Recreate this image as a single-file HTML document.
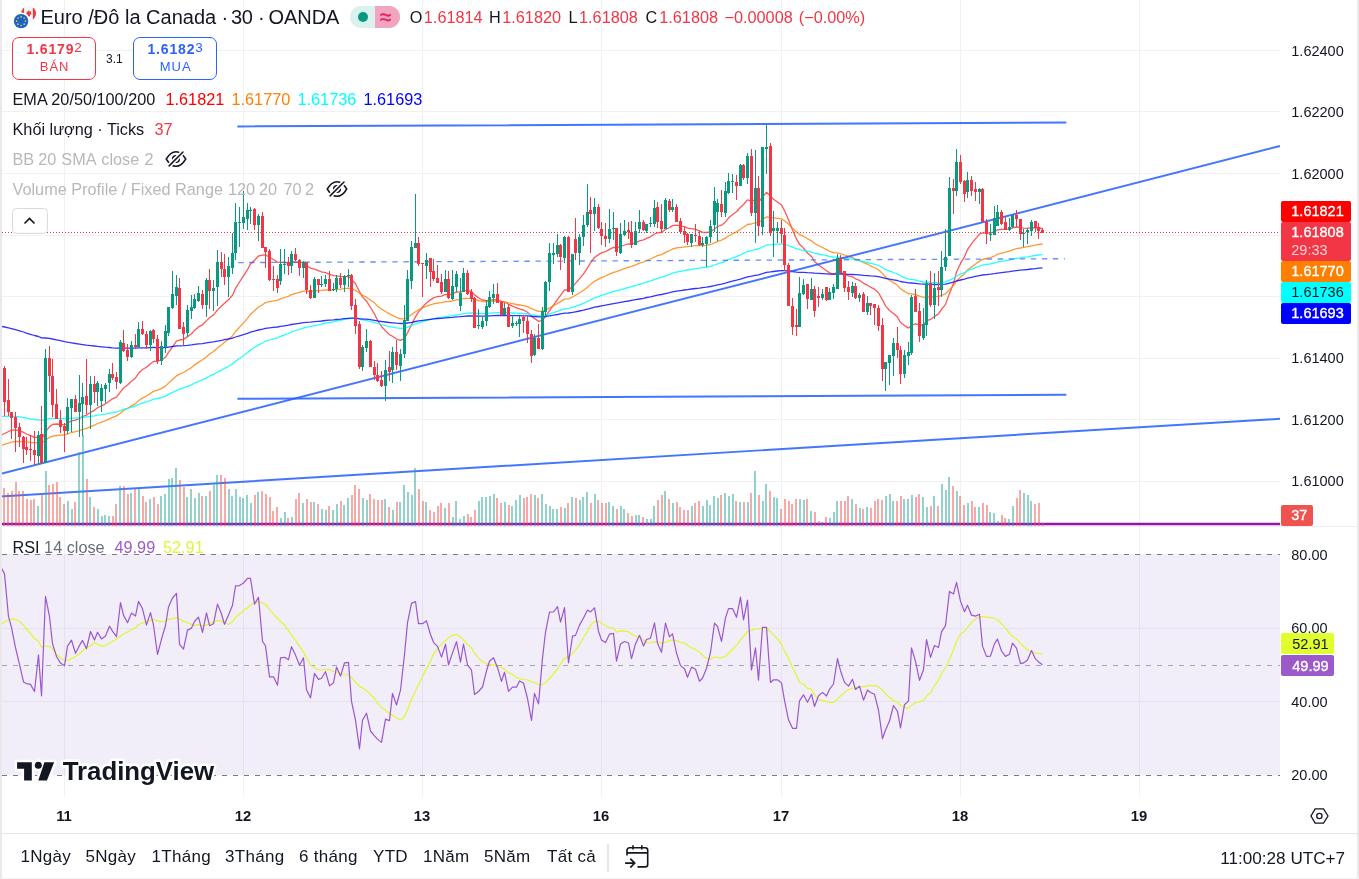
<!DOCTYPE html>
<html lang="vi">
<head>
<meta charset="utf-8">
<title>EURCAD · 30 · OANDA</title>
<style>
html,body{margin:0;padding:0;background:#fff;}
body{width:1359px;height:879px;position:relative;overflow:hidden;font-family:"Liberation Sans",sans-serif;color:#131722;}
.chart{position:absolute;left:0;top:0;}
.abs{position:absolute;white-space:nowrap;}
.bl{position:absolute;left:0;top:0;width:2px;height:879px;background:#e9e9eb;}
.br{position:absolute;left:1357px;top:0;width:2px;height:879px;background:#e9e9eb;}
.hsep{position:absolute;left:0;width:1359px;height:1px;background:#e3e4e8;}
.title{top:4.5px;font-size:20px;line-height:24px;color:#131722;}
.ohlc{top:6.5px;font-size:16.25px;line-height:20px;}
.ohlc b{font-weight:normal;color:#131722;}
.ohlc i{font-style:normal;color:#f23645;}
.lg{left:12.500px;font-size:16.25px;line-height:20px;color:#131722;}
.lg span{margin-left:0;}
.dim{color:#b7b8bc;}
.btn{position:absolute;top:37px;width:82.3px;height:41px;border:1px solid;border-radius:7px;box-sizing:content-box;text-align:center;background:#fff;}
.btn .p{position:absolute;left:0;right:0;top:3.300px;font-size:14px;line-height:16px;font-weight:bold;letter-spacing:0.850px;}
.btn .p sup{font-size:13.500px;font-weight:normal;vertical-align:baseline;position:relative;top:-2.300px;letter-spacing:0;}
.btn .t{position:absolute;left:1px;right:0;top:21px;font-size:13px;line-height:16px;letter-spacing:1px;}
.ax{position:absolute;left:1291.300px;font-size:14.500px;line-height:16px;color:#131722;}
.tag{position:absolute;left:1281px;width:70px;border-radius:2px;color:#fff;font-size:14.500px;line-height:21px;box-sizing:border-box;padding-left:10.300px;font-weight:normal;-webkit-text-stroke:0.350px currentColor;}
.tl{position:absolute;top:808px;font-size:14.800px;line-height:16px;font-weight:bold;color:#131722;transform:translateX(-50%);}
.tb{position:absolute;top:847px;font-size:17px;line-height:20px;color:#131722;letter-spacing:0.300px;}
</style>
</head>
<body>
<svg class="chart" width="1359" height="879" viewBox="0 0 1359 879"><path d="M0 50.5H1280M0 111.5H1280M0 173.5H1280M0 235.5H1280M0 296.5H1280M0 358.5H1280M0 419.5H1280M0 481.5H1280M0 628.5H1280M0 701.5H1280M64.5 0V797M243.5 0V797M422.5 0V797M601.5 0V797M781.5 0V797M960.5 0V797M1139.5 0V797" stroke="#f1f1f3" stroke-width="1" fill="none" shape-rendering="crispEdges"/>
<rect x="0" y="554" width="1280" height="221.5" fill="#7e57c2" fill-opacity="0.1"/>
<path d="M0 554.5H1280M0 775.5H1280" stroke="#787b86" stroke-width="1" stroke-dasharray="5.5 5.5" stroke-dashoffset="9.3" fill="none" shape-rendering="crispEdges"/>
<path d="M0 665.5H1280" stroke="#a4a6ae" stroke-width="1" stroke-dasharray="5.5 5.5" stroke-dashoffset="9.3" fill="none" shape-rendering="crispEdges"/>
<polyline points="0.8,435.5 4.5,433.5 8.5,431.5 11.5,430.2 15.5,430 19.5,430.7 23.5,432.4 26.5,434 30.5,435.6 34.5,437.4 38.5,437.2 41.5,439.6 45.5,431.8 49.5,426.6 52.5,424.5 56.5,424 60.5,424.3 64.5,424.9 67.5,423.2 71.5,420.9 75.5,420.1 79.5,418.5 82.5,416.4 86.5,415.3 90.5,412.3 94.5,410.3 97.5,407.7 101.5,405.8 105.5,403.8 109.5,401 112.5,398.8 116.5,397.2 120.5,391.9 123.5,388 127.5,385 131.5,381.2 135.5,378 138.5,373.3 142.5,369.5 146.5,367.2 150.5,363.7 153.5,361.4 157.5,361.4 161.5,359.9 165.5,357.2 168.5,352.4 172.5,346.9 176.5,341.2 179.5,340 183.5,339.4 187.5,336.6 191.5,333.8 194.5,330.4 198.5,326.9 202.5,324.8 206.5,320.6 209.5,317.7 213.5,314.9 217.5,309.9 221.5,306 224.5,303.3 228.5,299.8 232.5,295.3 235.5,288.3 239.5,282 243.5,275.8 247.5,269.6 250.5,263.9 254.5,260.2 258.5,256 262.5,255.2 265.5,254.9 269.5,257.3 273.5,259.5 277.5,262.2 280.5,262.4 284.5,262.5 288.5,262.8 291.5,262 295.5,261.8 299.5,262.4 303.5,262.4 306.5,265.1 310.5,268.2 314.5,269.2 318.5,270.7 321.5,271.9 325.5,272.6 329.5,274.3 333.5,275.7 336.5,275.9 340.5,276.7 344.5,276.6 348.5,276.5 351.5,279.3 355.5,283.7 359.5,291.7 362.5,296.9 366.5,301.2 370.5,307.5 374.5,313.9 377.5,320.3 381.5,326.5 385.5,330.7 389.5,334.6 392.5,336.3 396.5,339 400.5,340.4 404.5,338.5 407.5,332.8 411.5,324.7 415.5,316.9 418.5,311.9 422.5,307.3 426.5,302.8 430.5,299.9 433.5,297.9 437.5,296.5 441.5,296.1 445.5,294.4 448.5,294.8 452.5,293.9 456.5,292 460.5,292.1 463.5,290.3 467.5,290.6 471.5,291.5 474.5,294.9 478.5,297.8 482.5,300 486.5,300.6 489.5,300.2 493.5,299.6 497.5,299.9 501.5,301.4 504.5,302 508.5,304.3 512.5,306.2 516.5,307.8 519.5,308.9 523.5,310 527.5,312.2 531.5,316.4 534.5,318.4 538.5,321.3 542.5,320.3 545.5,316.7 549.5,310.6 553.5,305.1 557.5,299.4 560.5,295.4 564.5,289.9 568.5,290 572.5,286.6 575.5,283.4 579.5,278.9 583.5,273.8 587.5,267.9 590.5,262.8 594.5,257.5 598.5,254.6 601.5,252.9 605.5,251.6 609.5,249.4 613.5,247.3 616.5,247.8 620.5,246.5 624.5,245 628.5,243.8 631.5,244 635.5,242.7 639.5,240.8 643.5,239.8 646.5,238.3 650.5,236.8 654.5,234 657.5,232.9 661.5,232.5 665.5,229.4 669.5,227.5 672.5,225.6 676.5,225.2 680.5,225.8 684.5,226.7 687.5,228.1 691.5,228.7 695.5,229.4 699.5,230.9 702.5,232.1 706.5,232.5 710.5,231.9 714.5,229 717.5,226.5 721.5,225.2 725.5,221.9 728.5,218.1 732.5,214.5 736.5,211.8 740.5,207.3 743.5,204.5 747.5,199.9 751.5,201.1 755.5,199.8 758.5,202.3 762.5,197 766.5,192.3 770.5,196.1 773.5,199.2 777.5,202 781.5,205 784.5,210.6 788.5,219.7 792.5,229.9 796.5,239.1 799.5,244.2 803.5,248.1 807.5,253 811.5,256.4 814.5,261.6 818.5,265 822.5,267.8 826.5,270.8 829.5,272.9 833.5,274.2 837.5,272.7 840.5,272.7 844.5,274.1 848.5,275.8 852.5,276.8 855.5,278.8 859.5,280.3 863.5,283.3 867.5,285.2 870.5,287.2 874.5,289.2 878.5,292.7 882.5,299.9 885.5,305.8 889.5,310.5 893.5,313.6 897.5,317.1 900.5,322.5 904.5,325.6 908.5,328.1 911.5,325.2 915.5,323.9 919.5,325 923.5,324.9 926.5,320.9 930.5,319.4 934.5,316.4 938.5,313.9 941.5,309.4 945.5,304.4 949.5,293.4 953.5,283.6 956.5,272 960.5,263.4 964.5,256.8 967.5,249.5 971.5,243.9 975.5,238.9 979.5,234.1 982.5,233 986.5,233.1 990.5,233.2 994.5,231.7 997.5,229.8 1001.5,229.3 1005.5,229.3 1009.5,229.1 1012.5,227.8 1016.5,227 1020.5,227.6 1023.5,228.1 1027.5,228.3 1031.5,227.7 1035.5,227.8 1038.5,228 1042.5,228.5" fill="none" stroke="#ff0000" stroke-width="1.3" stroke-linejoin="round" stroke-opacity="0.66"/>
<polyline points="0.8,445.5 4.5,444.3 8.5,443.1 11.5,442.1 15.5,441.5 19.5,441.3 23.5,441.6 26.5,441.9 30.5,442.3 34.5,442.8 38.5,442.5 41.5,443.3 45.5,439.9 49.5,437.4 52.5,436.1 56.5,435.5 60.5,435.2 64.5,435 67.5,433.9 71.5,432.5 75.5,431.7 79.5,430.6 82.5,429.3 86.5,428.3 90.5,426.6 94.5,425.2 97.5,423.5 101.5,422.1 105.5,420.7 109.5,418.9 112.5,417.3 116.5,415.9 120.5,413 123.5,410.5 127.5,408.4 131.5,405.9 135.5,403.6 138.5,400.7 142.5,398.1 146.5,396 150.5,393.4 153.5,391.3 157.5,390.1 161.5,388.4 165.5,386.1 168.5,383.1 172.5,379.6 176.5,375.9 179.5,374.1 183.5,372.5 187.5,370 191.5,367.6 194.5,364.9 198.5,362.1 202.5,359.8 206.5,356.7 209.5,354.1 213.5,351.5 217.5,348 221.5,344.9 224.5,342.3 228.5,339.3 232.5,335.9 235.5,331.5 239.5,327.2 243.5,322.9 247.5,318.4 250.5,314.2 254.5,310.7 258.5,307 262.5,304.7 265.5,302.6 269.5,301.7 273.5,300.8 277.5,300.4 280.5,298.9 284.5,297.5 288.5,296.3 291.5,294.6 295.5,293.3 299.5,292.3 303.5,291.1 306.5,291.1 310.5,291.4 314.5,290.9 318.5,290.6 321.5,290.4 325.5,289.9 329.5,290 333.5,289.9 336.5,289.4 340.5,289.2 344.5,288.7 348.5,288.2 351.5,288.9 355.5,290.3 359.5,293.3 362.5,295.4 366.5,297.2 370.5,300 374.5,302.9 377.5,306 381.5,309.1 385.5,311.5 389.5,313.9 392.5,315.4 396.5,317.3 400.5,318.8 404.5,318.8 407.5,317.3 411.5,314.5 415.5,311.7 418.5,309.8 422.5,308 426.5,306.2 430.5,304.8 433.5,303.8 437.5,303 441.5,302.6 445.5,301.6 448.5,301.5 452.5,300.9 456.5,299.8 460.5,299.5 463.5,298.5 467.5,298.3 471.5,298.4 474.5,299.5 478.5,300.5 482.5,301.3 486.5,301.5 489.5,301.3 493.5,301 497.5,301.1 501.5,301.7 504.5,301.9 508.5,302.9 512.5,303.7 516.5,304.5 519.5,305 523.5,305.6 527.5,306.7 531.5,308.7 534.5,309.8 538.5,311.3 542.5,311.3 545.5,310.2 549.5,307.9 553.5,305.8 557.5,303.4 560.5,301.6 564.5,299.1 568.5,298.8 572.5,297 575.5,295.3 579.5,293 583.5,290.3 587.5,287.3 590.5,284.4 594.5,281.3 598.5,279.2 601.5,277.6 605.5,276 609.5,274.2 613.5,272.4 616.5,271.6 620.5,270.1 624.5,268.6 628.5,267.2 631.5,266.3 635.5,264.9 639.5,263.2 643.5,262 646.5,260.5 650.5,259 654.5,257 657.5,255.6 661.5,254.6 665.5,252.4 669.5,250.7 672.5,249 676.5,247.9 680.5,247.3 684.5,246.8 687.5,246.6 691.5,246.2 695.5,245.7 699.5,245.7 702.5,245.6 706.5,245.3 710.5,244.5 714.5,242.8 717.5,241.3 721.5,240.1 725.5,238.2 728.5,236 732.5,233.8 736.5,231.9 740.5,229.3 743.5,227.3 747.5,224.5 751.5,224 755.5,222.6 758.5,222.7 762.5,219.8 766.5,216.9 770.5,217.5 773.5,217.9 777.5,218.4 781.5,218.9 784.5,220.7 788.5,224.1 792.5,228.1 796.5,232 799.5,234.4 803.5,236.3 807.5,238.8 811.5,240.8 814.5,243.5 818.5,245.6 822.5,247.5 826.5,249.6 829.5,251.3 833.5,252.7 837.5,252.9 840.5,253.6 844.5,255 848.5,256.4 852.5,257.6 855.5,259.2 859.5,260.6 863.5,262.6 867.5,264.2 870.5,265.8 874.5,267.5 878.5,269.8 882.5,273.6 885.5,277.1 889.5,280.2 893.5,282.6 897.5,285.3 900.5,288.8 904.5,291.4 908.5,293.7 911.5,293.9 915.5,294.6 919.5,296.2 923.5,297.3 926.5,296.7 930.5,297 934.5,296.7 938.5,296.4 941.5,295.3 945.5,293.8 949.5,289.6 953.5,285.7 956.5,280.9 960.5,277 964.5,273.7 967.5,270.1 971.5,267 975.5,264 979.5,261.1 982.5,259.5 986.5,258.5 990.5,257.6 994.5,256 997.5,254.3 1001.5,253.1 1005.5,252.2 1009.5,251.2 1012.5,249.8 1016.5,248.6 1020.5,248 1023.5,247.4 1027.5,246.7 1031.5,245.8 1035.5,245.1 1038.5,244.5 1042.5,244" fill="none" stroke="#ff8000" stroke-width="1.3" stroke-linejoin="round" stroke-opacity="0.8"/>
<polyline points="0.8,416.4 4.5,416.3 8.5,416.2 11.5,416.3 15.5,416.5 19.5,416.9 23.5,417.5 26.5,418.2 30.5,418.8 34.5,419.5 38.5,419.8 41.5,420.7 45.5,419.4 49.5,418.6 52.5,418.3 56.5,418.3 60.5,418.5 64.5,418.7 67.5,418.5 71.5,418.1 75.5,418 79.5,417.7 82.5,417.3 86.5,417 90.5,416.4 94.5,415.9 97.5,415.2 101.5,414.7 105.5,414.1 109.5,413.3 112.5,412.6 116.5,412 120.5,410.6 123.5,409.4 127.5,408.4 131.5,407.1 135.5,406 138.5,404.4 142.5,403 146.5,401.9 150.5,400.5 153.5,399.2 157.5,398.5 161.5,397.5 165.5,396.1 168.5,394.4 172.5,392.4 176.5,390.3 179.5,389.1 183.5,388 187.5,386.4 191.5,384.9 194.5,383.2 198.5,381.4 202.5,379.9 206.5,377.9 209.5,376.2 213.5,374.4 217.5,372.2 221.5,370.2 224.5,368.3 228.5,366.3 232.5,364.1 235.5,361.3 239.5,358.5 243.5,355.7 247.5,352.8 250.5,350 254.5,347.5 258.5,344.9 262.5,343 265.5,341.2 269.5,340 273.5,338.8 277.5,337.8 280.5,336.3 284.5,334.9 288.5,333.5 291.5,331.9 295.5,330.5 299.5,329.3 303.5,328 306.5,327.2 310.5,326.6 314.5,325.7 318.5,324.9 321.5,324.1 325.5,323.2 329.5,322.5 333.5,321.9 336.5,321 340.5,320.3 344.5,319.4 348.5,318.5 351.5,318.3 355.5,318.4 359.5,319.4 362.5,319.9 366.5,320.3 370.5,321.3 374.5,322.4 377.5,323.5 381.5,324.7 385.5,325.6 389.5,326.6 392.5,327.1 396.5,327.8 400.5,328.3 404.5,328.2 407.5,327.2 411.5,325.6 415.5,324 418.5,322.8 422.5,321.6 426.5,320.4 430.5,319.4 433.5,318.6 437.5,317.9 441.5,317.4 445.5,316.7 448.5,316.3 452.5,315.7 456.5,314.9 460.5,314.4 463.5,313.6 467.5,313.2 471.5,312.9 474.5,313.2 478.5,313.5 482.5,313.6 486.5,313.5 489.5,313.1 493.5,312.8 497.5,312.6 501.5,312.6 504.5,312.5 508.5,312.8 512.5,313 516.5,313.2 519.5,313.3 523.5,313.5 527.5,313.9 531.5,314.7 534.5,315.2 538.5,315.8 542.5,315.7 545.5,315.1 549.5,313.8 553.5,312.6 557.5,311.3 560.5,310.2 564.5,308.8 568.5,308.4 572.5,307.4 575.5,306.3 579.5,304.9 583.5,303.3 587.5,301.5 590.5,299.8 594.5,297.9 598.5,296.6 601.5,295.4 605.5,294.2 609.5,292.9 613.5,291.7 616.5,290.9 620.5,289.8 624.5,288.6 628.5,287.5 631.5,286.6 635.5,285.5 639.5,284.3 643.5,283.2 646.5,282 650.5,280.9 654.5,279.4 657.5,278.3 661.5,277.3 665.5,275.8 669.5,274.5 672.5,273.1 676.5,272.1 680.5,271.3 684.5,270.6 687.5,270 691.5,269.3 695.5,268.7 699.5,268.2 702.5,267.7 706.5,267.1 710.5,266.3 714.5,265 717.5,263.8 721.5,262.7 725.5,261.3 728.5,259.7 732.5,258.2 736.5,256.7 740.5,254.9 743.5,253.4 747.5,251.5 751.5,250.7 755.5,249.5 758.5,249 762.5,247 766.5,245 770.5,244.7 773.5,244.4 777.5,244.1 781.5,243.9 784.5,244.3 788.5,245.5 792.5,247.1 796.5,248.7 799.5,249.6 803.5,250.3 807.5,251.2 811.5,252 814.5,253.1 818.5,254 822.5,254.8 826.5,255.7 829.5,256.4 833.5,257 837.5,257.1 840.5,257.4 844.5,258 848.5,258.7 852.5,259.2 855.5,260 859.5,260.6 863.5,261.7 867.5,262.5 870.5,263.3 874.5,264.2 878.5,265.5 882.5,267.5 885.5,269.4 889.5,271.1 893.5,272.5 897.5,274 900.5,276 904.5,277.6 908.5,279.1 911.5,279.4 915.5,280 919.5,281.2 923.5,282 926.5,282 930.5,282.5 934.5,282.6 938.5,282.7 941.5,282.4 945.5,281.9 949.5,280.1 953.5,278.3 956.5,276 960.5,274.1 964.5,272.5 967.5,270.7 971.5,269.1 975.5,267.6 979.5,266 982.5,265.1 986.5,264.5 990.5,263.9 994.5,263 997.5,262 1001.5,261.3 1005.5,260.6 1009.5,260 1012.5,259.1 1016.5,258.3 1020.5,257.8 1023.5,257.3 1027.5,256.8 1031.5,256.1 1035.5,255.5 1038.5,255 1042.5,254.6" fill="none" stroke="#00ffff" stroke-width="1.3" stroke-linejoin="round" stroke-opacity="0.85"/>
<polyline points="0.8,326.1 4.5,327 8.5,327.9 11.5,328.7 15.5,329.7 19.5,330.8 23.5,332 26.5,333.1 30.5,334.3 34.5,335.5 38.5,336.5 41.5,337.8 45.5,338 49.5,338.3 52.5,339 56.5,339.8 60.5,340.7 64.5,341.6 67.5,342.2 71.5,342.8 75.5,343.5 79.5,344.1 82.5,344.6 86.5,345.2 90.5,345.6 94.5,346 97.5,346.4 101.5,346.8 105.5,347.2 109.5,347.5 112.5,347.8 116.5,348.1 120.5,348 123.5,348.1 127.5,348.2 131.5,348.1 135.5,348.1 138.5,347.9 142.5,347.8 146.5,347.8 150.5,347.6 153.5,347.5 157.5,347.6 161.5,347.6 165.5,347.5 168.5,347.1 172.5,346.5 176.5,345.9 179.5,345.8 183.5,345.6 187.5,345.3 191.5,344.9 194.5,344.4 198.5,343.9 202.5,343.6 206.5,342.9 209.5,342.4 213.5,341.9 217.5,341.1 221.5,340.4 224.5,339.7 228.5,339 232.5,338.1 235.5,337 239.5,335.8 243.5,334.7 247.5,333.4 250.5,332.2 254.5,331.1 258.5,330 262.5,329.2 265.5,328.4 269.5,327.9 273.5,327.4 277.5,327 280.5,326.4 284.5,325.8 288.5,325.2 291.5,324.5 295.5,323.9 299.5,323.3 303.5,322.7 306.5,322.4 310.5,322.1 314.5,321.7 318.5,321.3 321.5,321 325.5,320.5 329.5,320.2 333.5,319.9 336.5,319.5 340.5,319.2 344.5,318.7 348.5,318.3 351.5,318.2 355.5,318.2 359.5,318.7 362.5,319 366.5,319.2 370.5,319.7 374.5,320.3 377.5,320.9 381.5,321.5 385.5,322 389.5,322.5 392.5,322.8 396.5,323.2 400.5,323.5 404.5,323.5 407.5,323 411.5,322.3 415.5,321.5 418.5,320.9 422.5,320.4 426.5,319.8 430.5,319.3 433.5,318.9 437.5,318.5 441.5,318.3 445.5,317.9 448.5,317.7 452.5,317.4 456.5,316.9 460.5,316.7 463.5,316.3 467.5,316 471.5,315.9 474.5,316 478.5,316.1 482.5,316.1 486.5,316 489.5,315.8 493.5,315.6 497.5,315.5 501.5,315.5 504.5,315.4 508.5,315.5 512.5,315.6 516.5,315.7 519.5,315.7 523.5,315.8 527.5,315.9 531.5,316.3 534.5,316.5 538.5,316.9 542.5,316.8 545.5,316.5 549.5,315.8 553.5,315.2 557.5,314.5 560.5,313.9 564.5,313.2 568.5,313 572.5,312.4 575.5,311.8 579.5,311 583.5,310.2 587.5,309.2 590.5,308.3 594.5,307.2 598.5,306.5 601.5,305.8 605.5,305.1 609.5,304.3 613.5,303.6 616.5,303.1 620.5,302.4 624.5,301.7 628.5,301 631.5,300.4 635.5,299.7 639.5,299 643.5,298.3 646.5,297.5 650.5,296.8 654.5,295.9 657.5,295.2 661.5,294.5 665.5,293.6 669.5,292.7 672.5,291.9 676.5,291.2 680.5,290.6 684.5,290 687.5,289.6 691.5,289 695.5,288.5 699.5,288.1 702.5,287.6 706.5,287.1 710.5,286.5 714.5,285.6 717.5,284.8 721.5,284.1 725.5,283.2 728.5,282.2 732.5,281.2 736.5,280.2 740.5,279.1 743.5,278.1 747.5,276.8 751.5,276.2 755.5,275.3 758.5,274.8 762.5,273.6 766.5,272.3 770.5,271.9 773.5,271.5 777.5,271 781.5,270.7 784.5,270.6 788.5,271 792.5,271.5 796.5,272.1 799.5,272.3 803.5,272.4 807.5,272.7 811.5,272.8 814.5,273.2 818.5,273.4 822.5,273.6 826.5,273.9 829.5,274.1 833.5,274.2 837.5,274.1 840.5,274 844.5,274.2 848.5,274.4 852.5,274.5 855.5,274.7 859.5,274.9 863.5,275.3 867.5,275.6 870.5,275.9 874.5,276.2 878.5,276.7 882.5,277.6 885.5,278.4 889.5,279.2 893.5,279.8 897.5,280.5 900.5,281.5 904.5,282.2 908.5,282.9 911.5,283 915.5,283.3 919.5,283.8 923.5,284.2 926.5,284.2 930.5,284.4 934.5,284.5 938.5,284.5 941.5,284.3 945.5,284.1 949.5,283.1 953.5,282.2 956.5,281 960.5,280 964.5,279.1 967.5,278.2 971.5,277.3 975.5,276.4 979.5,275.6 982.5,275 986.5,274.6 990.5,274.2 994.5,273.7 997.5,273.1 1001.5,272.6 1005.5,272.1 1009.5,271.7 1012.5,271.1 1016.5,270.6 1020.5,270.2 1023.5,269.9 1027.5,269.5 1031.5,269 1035.5,268.6 1038.5,268.2 1042.5,267.9" fill="none" stroke="#0000ff" stroke-width="1.3" stroke-linejoin="round" stroke-opacity="0.8"/>
<path d="M238.2 262.6L1064.8 258.7" stroke="#2962ff" stroke-width="1.35" stroke-dasharray="5.4 5.609" fill="none" stroke-opacity="0.72"/>
<path d="M238.2 126.4L1065.5 122.6M238.2 398.8L1065.5 394.8" stroke="#2962ff" stroke-width="2" fill="none" stroke-linecap="round" stroke-opacity="0.88"/>
<path d="M0 474L1280 146M0 496.5L1280 418.8" stroke="#2962ff" stroke-width="1.95" fill="none" stroke-opacity="0.88"/>
<path d="M0 524H1280" stroke="#9613b0" stroke-width="2.3" fill="none"/>
<path d="M37 506h2V525.5h-2zM45 471h2V525.5h-2zM67 501h2V525.5h-2zM71 509h2V525.5h-2zM78 452h2V525.5h-2zM82 435h2V525.5h-2zM89 497h2V525.5h-2zM97 509h2V525.5h-2zM101 516h2V525.5h-2zM104 515h2V525.5h-2zM108 516h2V525.5h-2zM119 486h2V525.5h-2zM130 493h2V525.5h-2zM138 489h2V525.5h-2zM149 499h2V525.5h-2zM160 496h2V525.5h-2zM164 494h2V525.5h-2zM168 479h2V525.5h-2zM171 478h2V525.5h-2zM175 468h2V525.5h-2zM186 497h2V525.5h-2zM190 489h2V525.5h-2zM194 498h2V525.5h-2zM198 493h2V525.5h-2zM205 496h2V525.5h-2zM213 485h2V525.5h-2zM216 475h2V525.5h-2zM228 489h2V525.5h-2zM231 496h2V525.5h-2zM235 489h2V525.5h-2zM239 497h2V525.5h-2zM242 498h2V525.5h-2zM246 495h2V525.5h-2zM250 503h2V525.5h-2zM257 492h2V525.5h-2zM280 518h2V525.5h-2zM284 512h2V525.5h-2zM291 517h2V525.5h-2zM302 503h2V525.5h-2zM313 502h2V525.5h-2zM321 509h2V525.5h-2zM325 510h2V525.5h-2zM332 510h2V525.5h-2zM336 504h2V525.5h-2zM343 505h2V525.5h-2zM347 498h2V525.5h-2zM362 498h2V525.5h-2zM366 500h2V525.5h-2zM384 499h2V525.5h-2zM392 510h2V525.5h-2zM399 502h2V525.5h-2zM403 485h2V525.5h-2zM407 492h2V525.5h-2zM411 495h2V525.5h-2zM414 468h2V525.5h-2zM425 502h2V525.5h-2zM444 508h2V525.5h-2zM452 517h2V525.5h-2zM455 501h2V525.5h-2zM459 519h2V525.5h-2zM463 516h2V525.5h-2zM478 501h2V525.5h-2zM481 497h2V525.5h-2zM485 497h2V525.5h-2zM489 496h2V525.5h-2zM493 494h2V525.5h-2zM504 502h2V525.5h-2zM511 506h2V525.5h-2zM515 500h2V525.5h-2zM519 495h2V525.5h-2zM534 495h2V525.5h-2zM541 494h2V525.5h-2zM545 504h2V525.5h-2zM549 506h2V525.5h-2zM552 509h2V525.5h-2zM556 509h2V525.5h-2zM564 508h2V525.5h-2zM571 497h2V525.5h-2zM579 500h2V525.5h-2zM582 497h2V525.5h-2zM586 492h2V525.5h-2zM594 494h2V525.5h-2zM608 502h2V525.5h-2zM612 506h2V525.5h-2zM620 506h2V525.5h-2zM623 509h2V525.5h-2zM635 515h2V525.5h-2zM638 515h2V525.5h-2zM646 519h2V525.5h-2zM650 519h2V525.5h-2zM653 506h2V525.5h-2zM664 491h2V525.5h-2zM672 503h2V525.5h-2zM691 506h2V525.5h-2zM702 506h2V525.5h-2zM706 500h2V525.5h-2zM709 505h2V525.5h-2zM713 496h2V525.5h-2zM717 498h2V525.5h-2zM724 493h2V525.5h-2zM728 496h2V525.5h-2zM732 494h2V525.5h-2zM739 502h2V525.5h-2zM747 502h2V525.5h-2zM754 471h2V525.5h-2zM762 501h2V525.5h-2zM765 484h2V525.5h-2zM773 497h2V525.5h-2zM776 498h2V525.5h-2zM799 499h2V525.5h-2zM803 500h2V525.5h-2zM810 511h2V525.5h-2zM821 522h2V525.5h-2zM829 518h2V525.5h-2zM833 512h2V525.5h-2zM836 501h2V525.5h-2zM851 499h2V525.5h-2zM859 508h2V525.5h-2zM866 507h2V525.5h-2zM885 496h2V525.5h-2zM889 494h2V525.5h-2zM892 501h2V525.5h-2zM903 499h2V525.5h-2zM907 499h2V525.5h-2zM911 495h2V525.5h-2zM922 497h2V525.5h-2zM926 507h2V525.5h-2zM933 496h2V525.5h-2zM941 484h2V525.5h-2zM945 490h2V525.5h-2zM948 477h2V525.5h-2zM956 491h2V525.5h-2zM967 503h2V525.5h-2zM978 507h2V525.5h-2zM989 512h2V525.5h-2zM993 513h2V525.5h-2zM997 521h2V525.5h-2zM1008 519h2V525.5h-2zM1012 506h2V525.5h-2zM1023 493h2V525.5h-2zM1027 495h2V525.5h-2zM1030 501h2V525.5h-2z" fill="#26a69a" fill-opacity="0.5" shape-rendering="crispEdges"/>
<path d="M3 488h2V525.5h-2zM7 493h2V525.5h-2zM11 491h2V525.5h-2zM15 482h2V525.5h-2zM18 491h2V525.5h-2zM22 491h2V525.5h-2zM26 499h2V525.5h-2zM30 500h2V525.5h-2zM33 499h2V525.5h-2zM41 495h2V525.5h-2zM48 485h2V525.5h-2zM52 484h2V525.5h-2zM56 482h2V525.5h-2zM59 497h2V525.5h-2zM63 504h2V525.5h-2zM74 502h2V525.5h-2zM86 479h2V525.5h-2zM93 507h2V525.5h-2zM112 516h2V525.5h-2zM115 504h2V525.5h-2zM123 486h2V525.5h-2zM127 494h2V525.5h-2zM134 489h2V525.5h-2zM142 496h2V525.5h-2zM145 502h2V525.5h-2zM153 497h2V525.5h-2zM157 504h2V525.5h-2zM179 480h2V525.5h-2zM183 487h2V525.5h-2zM201 496h2V525.5h-2zM209 491h2V525.5h-2zM220 475h2V525.5h-2zM224 478h2V525.5h-2zM254 495h2V525.5h-2zM261 491h2V525.5h-2zM265 494h2V525.5h-2zM269 497h2V525.5h-2zM272 511h2V525.5h-2zM276 507h2V525.5h-2zM287 518h2V525.5h-2zM295 499h2V525.5h-2zM298 493h2V525.5h-2zM306 499h2V525.5h-2zM310 502h2V525.5h-2zM317 504h2V525.5h-2zM328 506h2V525.5h-2zM340 501h2V525.5h-2zM351 495h2V525.5h-2zM354 485h2V525.5h-2zM358 489h2V525.5h-2zM369 494h2V525.5h-2zM373 499h2V525.5h-2zM377 500h2V525.5h-2zM381 500h2V525.5h-2zM388 507h2V525.5h-2zM396 502h2V525.5h-2zM418 489h2V525.5h-2zM422 501h2V525.5h-2zM429 510h2V525.5h-2zM433 512h2V525.5h-2zM437 506h2V525.5h-2zM440 503h2V525.5h-2zM448 503h2V525.5h-2zM467 514h2V525.5h-2zM470 517h2V525.5h-2zM474 510h2V525.5h-2zM496 498h2V525.5h-2zM500 503h2V525.5h-2zM508 505h2V525.5h-2zM523 498h2V525.5h-2zM526 497h2V525.5h-2zM530 494h2V525.5h-2zM537 498h2V525.5h-2zM560 507h2V525.5h-2zM567 503h2V525.5h-2zM575 498h2V525.5h-2zM590 503h2V525.5h-2zM597 500h2V525.5h-2zM601 503h2V525.5h-2zM605 503h2V525.5h-2zM616 509h2V525.5h-2zM627 513h2V525.5h-2zM631 516h2V525.5h-2zM642 517h2V525.5h-2zM657 500h2V525.5h-2zM661 495h2V525.5h-2zM668 499h2V525.5h-2zM676 502h2V525.5h-2zM679 507h2V525.5h-2zM683 510h2V525.5h-2zM687 510h2V525.5h-2zM694 503h2V525.5h-2zM698 501h2V525.5h-2zM720 495h2V525.5h-2zM735 501h2V525.5h-2zM743 502h2V525.5h-2zM750 493h2V525.5h-2zM758 495h2V525.5h-2zM769 491h2V525.5h-2zM780 509h2V525.5h-2zM784 499h2V525.5h-2zM788 501h2V525.5h-2zM791 504h2V525.5h-2zM795 499h2V525.5h-2zM806 499h2V525.5h-2zM814 512h2V525.5h-2zM818 521h2V525.5h-2zM825 517h2V525.5h-2zM840 501h2V525.5h-2zM844 501h2V525.5h-2zM847 496h2V525.5h-2zM855 504h2V525.5h-2zM862 509h2V525.5h-2zM870 508h2V525.5h-2zM874 501h2V525.5h-2zM877 499h2V525.5h-2zM881 500h2V525.5h-2zM896 501h2V525.5h-2zM900 496h2V525.5h-2zM915 497h2V525.5h-2zM918 494h2V525.5h-2zM930 506h2V525.5h-2zM937 506h2V525.5h-2zM952 486h2V525.5h-2zM959 496h2V525.5h-2zM963 505h2V525.5h-2zM971 501h2V525.5h-2zM974 507h2V525.5h-2zM982 503h2V525.5h-2zM986 505h2V525.5h-2zM1001 515h2V525.5h-2zM1004 518h2V525.5h-2zM1016 498h2V525.5h-2zM1019 490h2V525.5h-2zM1034 504h2V525.5h-2zM1038 503h2V525.5h-2zM1042 523h2V525.5h-2z" fill="#ef5350" fill-opacity="0.5" shape-rendering="crispEdges"/>
<path d="M2 232.5H1279" stroke="#f23645" stroke-width="1" stroke-dasharray="1 2" fill="none" shape-rendering="crispEdges"/>
<path d="M38 431h1V465h-1zM45 349h1V463h-1zM67 398h1V434h-1zM71 399h1V432h-1zM79 375h1V437h-1zM82 383h1V436h-1zM90 376h1V429h-1zM97 381h1V406h-1zM101 384h1V412h-1zM105 383h1V403h-1zM109 369h1V392h-1zM120 340h1V384h-1zM131 341h1V358h-1zM138 322h1V348h-1zM150 330h1V351h-1zM161 341h1V365h-1zM165 325h1V353h-1zM168 307h1V336h-1zM172 271h1V309h-1zM176 275h1V305h-1zM187 305h1V337h-1zM191 295h1V319h-1zM194 294h1V309h-1zM198 286h1V302h-1zM206 278h1V317h-1zM213 280h1V311h-1zM217 250h1V306h-1zM228 257h1V297h-1zM232 233h1V274h-1zM235 203h1V260h-1zM239 207h1V247h-1zM243 191h1V229h-1zM247 203h1V230h-1zM250 207h1V224h-1zM258 214h1V241h-1zM280 249h1V285h-1zM284 249h1V274h-1zM291 251h1V273h-1zM303 261h1V278h-1zM314 277h1V298h-1zM321 276h1V287h-1zM325 275h1V287h-1zM333 283h1V291h-1zM336 275h1V292h-1zM344 275h1V292h-1zM348 269h1V287h-1zM362 345h1V371h-1zM366 329h1V352h-1zM385 360h1V401h-1zM392 347h1V383h-1zM400 349h1V381h-1zM404 305h1V358h-1zM407 270h1V321h-1zM411 241h1V289h-1zM415 194h1V248h-1zM426 253h1V279h-1zM445 270h1V292h-1zM452 270h1V300h-1zM456 271h1V292h-1zM460 278h1V311h-1zM463 268h1V292h-1zM478 309h1V329h-1zM482 317h1V329h-1zM486 300h1V326h-1zM489 291h1V308h-1zM493 284h1V304h-1zM504 303h1V315h-1zM512 315h1V328h-1zM516 321h1V326h-1zM519 316h1V337h-1zM534 334h1V356h-1zM542 307h1V350h-1zM545 281h1V317h-1zM549 243h1V291h-1zM553 243h1V264h-1zM557 234h1V257h-1zM564 236h1V263h-1zM572 254h1V295h-1zM579 234h1V265h-1zM583 215h1V246h-1zM587 184h1V227h-1zM594 198h1V231h-1zM609 209h1V243h-1zM613 212h1V240h-1zM620 223h1V254h-1zM624 220h1V236h-1zM635 222h1V245h-1zM639 210h1V233h-1zM646 224h1V233h-1zM650 217h1V227h-1zM654 200h1V227h-1zM665 198h1V229h-1zM672 199h1V212h-1zM691 234h1V247h-1zM702 237h1V247h-1zM706 236h1V267h-1zM710 220h1V243h-1zM714 187h1V232h-1zM717 199h1V241h-1zM725 182h1V217h-1zM728 173h1V194h-1zM732 174h1V193h-1zM740 164h1V186h-1zM747 153h1V184h-1zM755 150h1V243h-1zM762 147h1V235h-1zM766 125h1V174h-1zM773 211h1V257h-1zM777 222h1V243h-1zM799 277h1V327h-1zM803 279h1V295h-1zM811 278h1V300h-1zM822 289h1V300h-1zM829 288h1V300h-1zM833 284h1V299h-1zM837 254h1V289h-1zM852 282h1V297h-1zM859 293h1V302h-1zM867 296h1V315h-1zM885 362h1V391h-1zM889 355h1V385h-1zM893 338h1V376h-1zM904 350h1V378h-1zM908 342h1V365h-1zM911 295h1V355h-1zM923 308h1V340h-1zM926 280h1V336h-1zM934 273h1V319h-1zM941 251h1V297h-1zM945 229h1V271h-1zM949 177h1V256h-1zM956 149h1V196h-1zM967 172h1V198h-1zM979 188h1V204h-1zM990 224h1V241h-1zM994 206h1V235h-1zM997 205h1V226h-1zM1009 218h1V231h-1zM1012 215h1V228h-1zM1023 229h1V247h-1zM1027 228h1V244h-1zM1031 220h1V236h-1zM37 435h3V456h-3zM44 358h3V463h-3zM66 407h3V431h-3zM70 399h3V408h-3zM78 403h3V412h-3zM81 397h3V404h-3zM89 384h3V405h-3zM96 383h3V392h-3zM100 388h3V401h-3zM104 385h3V389h-3zM108 374h3V383h-3zM119 342h3V383h-3zM130 345h3V357h-3zM137 329h3V347h-3zM149 331h3V345h-3zM160 346h3V361h-3zM164 331h3V347h-3zM167 307h3V333h-3zM171 294h3V308h-3zM175 287h3V296h-3zM186 310h3V333h-3zM190 307h3V311h-3zM193 299h3V308h-3zM197 293h3V301h-3zM205 280h3V305h-3zM212 288h3V291h-3zM216 262h3V287h-3zM227 266h3V277h-3zM231 253h3V268h-3zM234 222h3V253h-3zM238 222h3V223h-3zM242 217h3V223h-3zM246 210h3V219h-3zM249 210h3V211h-3zM257 216h3V225h-3zM279 264h3V281h-3zM283 264h3V265h-3zM290 254h3V266h-3zM302 262h3V268h-3zM313 279h3V298h-3zM320 284h3V285h-3zM324 279h3V284h-3zM332 289h3V290h-3zM335 278h3V289h-3zM343 276h3V285h-3zM347 275h3V276h-3zM361 347h3V367h-3zM365 341h3V348h-3zM384 370h3V386h-3zM391 352h3V370h-3zM399 354h3V366h-3zM403 320h3V354h-3zM406 279h3V321h-3zM410 247h3V281h-3zM414 243h3V248h-3zM425 260h3V266h-3zM444 279h3V292h-3zM451 286h3V299h-3zM455 274h3V287h-3zM459 293h3V306h-3zM462 273h3V292h-3zM477 325h3V326h-3zM481 321h3V327h-3zM485 306h3V321h-3zM488 297h3V307h-3zM492 294h3V298h-3zM503 308h3V315h-3zM511 323h3V326h-3zM515 323h3V324h-3zM518 319h3V324h-3zM533 338h3V355h-3zM541 311h3V349h-3zM544 282h3V312h-3zM548 253h3V282h-3zM552 253h3V255h-3zM556 245h3V254h-3zM563 237h3V258h-3zM571 254h3V292h-3zM578 237h3V253h-3zM582 225h3V237h-3zM586 212h3V225h-3zM593 207h3V214h-3zM608 229h3V239h-3zM612 228h3V229h-3zM619 234h3V253h-3zM623 231h3V235h-3zM634 231h3V245h-3zM638 222h3V229h-3zM645 224h3V231h-3zM649 223h3V224h-3zM653 208h3V224h-3zM664 200h3V229h-3zM671 207h3V210h-3zM690 234h3V243h-3zM701 243h3V245h-3zM705 237h3V244h-3zM709 226h3V237h-3zM713 201h3V225h-3zM716 203h3V212h-3zM724 191h3V213h-3zM727 181h3V193h-3zM731 181h3V182h-3zM739 165h3V186h-3zM746 156h3V178h-3zM754 188h3V213h-3zM761 147h3V227h-3zM765 147h3V149h-3zM772 228h3V231h-3zM776 228h3V231h-3zM798 293h3V327h-3zM802 285h3V294h-3zM810 289h3V300h-3zM821 294h3V298h-3zM828 292h3V300h-3zM832 287h3V293h-3zM836 258h3V289h-3zM851 286h3V293h-3zM858 295h3V298h-3zM866 303h3V312h-3zM884 362h3V369h-3zM888 355h3V363h-3zM892 343h3V356h-3zM903 355h3V374h-3zM907 352h3V356h-3zM910 297h3V353h-3zM922 324h3V338h-3zM925 283h3V325h-3zM933 288h3V305h-3zM940 267h3V290h-3zM944 257h3V267h-3zM948 188h3V256h-3zM955 162h3V191h-3zM966 180h3V192h-3zM978 189h3V192h-3zM989 234h3V235h-3zM993 218h3V235h-3zM996 212h3V226h-3zM1008 227h3V230h-3zM1011 215h3V227h-3zM1022 233h3V234h-3zM1026 230h3V232h-3zM1030 222h3V231h-3z" fill="#089981" shape-rendering="crispEdges"/>
<path d="M4 366h1V416h-1zM8 379h1V416h-1zM11 412h1V439h-1zM15 412h1V452h-1zM19 423h1V447h-1zM23 436h1V463h-1zM26 437h1V455h-1zM30 435h1V461h-1zM34 431h1V465h-1zM41 406h1V463h-1zM49 346h1V392h-1zM52 359h1V417h-1zM56 389h1V419h-1zM60 410h1V433h-1zM64 423h1V452h-1zM75 395h1V412h-1zM86 359h1V414h-1zM94 376h1V403h-1zM112 363h1V380h-1zM116 372h1V389h-1zM123 330h1V352h-1zM127 344h1V361h-1zM135 334h1V349h-1zM142 321h1V335h-1zM146 331h1V349h-1zM153 329h1V343h-1zM157 335h1V364h-1zM179 278h1V329h-1zM183 322h1V345h-1zM202 290h1V309h-1zM209 269h1V309h-1zM221 252h1V277h-1zM224 254h1V285h-1zM254 208h1V230h-1zM262 212h1V248h-1zM265 247h1V268h-1zM269 249h1V281h-1zM273 266h1V291h-1zM277 275h1V293h-1zM288 257h1V275h-1zM295 248h1V261h-1zM299 259h1V276h-1zM306 262h1V294h-1zM310 285h1V299h-1zM318 279h1V293h-1zM329 271h1V291h-1zM340 273h1V288h-1zM351 274h1V310h-1zM355 299h1V334h-1zM359 321h1V369h-1zM370 340h1V367h-1zM374 361h1V380h-1zM377 363h1V382h-1zM381 371h1V387h-1zM389 351h1V381h-1zM396 340h1V370h-1zM418 237h1V266h-1zM422 263h1V297h-1zM430 258h1V287h-1zM433 259h1V281h-1zM437 265h1V283h-1zM441 274h1V294h-1zM448 271h1V299h-1zM467 270h1V295h-1zM471 289h1V302h-1zM474 297h1V328h-1zM497 283h1V303h-1zM501 301h1V316h-1zM508 304h1V327h-1zM523 315h1V333h-1zM527 316h1V343h-1zM531 330h1V363h-1zM538 324h1V349h-1zM560 244h1V270h-1zM568 236h1V292h-1zM575 218h1V260h-1zM590 197h1V253h-1zM598 204h1V229h-1zM601 222h1V245h-1zM605 223h1V247h-1zM616 228h1V256h-1zM628 222h1V239h-1zM631 221h1V248h-1zM643 220h1V231h-1zM657 202h1V228h-1zM661 204h1V232h-1zM669 199h1V212h-1zM676 204h1V222h-1zM680 218h1V234h-1zM684 227h1V243h-1zM687 233h1V245h-1zM695 224h1V242h-1zM699 231h1V246h-1zM721 190h1V217h-1zM736 175h1V200h-1zM743 164h1V180h-1zM751 149h1V216h-1zM758 176h1V236h-1zM770 143h1V236h-1zM781 220h1V243h-1zM784 228h1V271h-1zM788 263h1V306h-1zM792 298h1V335h-1zM796 309h1V336h-1zM807 284h1V309h-1zM814 286h1V317h-1zM818 287h1V307h-1zM826 287h1V301h-1zM840 255h1V273h-1zM844 271h1V292h-1zM848 281h1V300h-1zM855 283h1V299h-1zM863 292h1V312h-1zM870 303h1V315h-1zM874 304h1V325h-1zM878 305h1V331h-1zM882 318h1V381h-1zM897 327h1V358h-1zM900 346h1V384h-1zM915 289h1V312h-1zM919 303h1V342h-1zM930 271h1V307h-1zM938 271h1V306h-1zM953 179h1V214h-1zM960 155h1V184h-1zM964 180h1V202h-1zM971 176h1V196h-1zM975 182h1V201h-1zM982 188h1V222h-1zM986 219h1V244h-1zM1001 210h1V225h-1zM1005 217h1V230h-1zM1016 210h1V227h-1zM1020 219h1V240h-1zM1035 221h1V232h-1zM1038 223h1V239h-1zM1042 228h1V233h-1zM3 368h3V402h-3zM7 400h3V412h-3zM10 412h3V418h-3zM14 417h3V428h-3zM18 427h3V437h-3zM22 437h3V449h-3zM25 447h3V450h-3zM29 449h3V450h-3zM33 450h3V455h-3zM40 434h3V463h-3zM48 358h3V376h-3zM51 376h3V405h-3zM55 404h3V419h-3zM59 420h3V427h-3zM63 426h3V431h-3zM74 399h3V412h-3zM85 396h3V405h-3zM93 384h3V392h-3zM111 374h3V378h-3zM115 377h3V382h-3zM122 343h3V351h-3zM126 350h3V357h-3zM134 345h3V347h-3zM141 329h3V334h-3zM145 334h3V345h-3zM152 330h3V339h-3zM156 339h3V361h-3zM178 288h3V329h-3zM182 327h3V334h-3zM201 294h3V305h-3zM208 280h3V291h-3zM220 262h3V269h-3zM223 269h3V277h-3zM253 209h3V225h-3zM261 216h3V248h-3zM264 247h3V252h-3zM268 251h3V280h-3zM272 279h3V280h-3zM276 279h3V288h-3zM287 262h3V266h-3zM294 254h3V260h-3zM298 260h3V268h-3zM305 262h3V290h-3zM309 290h3V298h-3zM317 279h3V285h-3zM328 279h3V291h-3zM339 278h3V285h-3zM350 275h3V306h-3zM354 305h3V326h-3zM358 324h3V367h-3zM369 341h3V367h-3zM373 367h3V375h-3zM376 375h3V381h-3zM380 380h3V386h-3zM388 367h3V372h-3zM395 352h3V365h-3zM417 243h3V264h-3zM421 263h3V264h-3zM429 258h3V272h-3zM432 271h3V279h-3zM436 278h3V283h-3zM440 282h3V292h-3zM447 279h3V298h-3zM466 273h3V294h-3zM470 292h3V299h-3zM473 298h3V328h-3zM496 294h3V303h-3zM500 302h3V315h-3zM507 307h3V327h-3zM522 317h3V321h-3zM526 321h3V334h-3zM530 334h3V356h-3zM537 338h3V349h-3zM559 245h3V257h-3zM567 237h3V292h-3zM574 239h3V253h-3zM589 210h3V214h-3zM597 207h3V228h-3zM600 229h3V236h-3zM604 236h3V239h-3zM615 228h3V252h-3zM627 230h3V232h-3zM630 232h3V245h-3zM642 222h3V230h-3zM656 207h3V222h-3zM660 221h3V229h-3zM668 201h3V210h-3zM675 207h3V222h-3zM679 221h3V232h-3zM683 231h3V235h-3zM686 234h3V242h-3zM694 235h3V236h-3zM698 236h3V245h-3zM720 204h3V212h-3zM735 182h3V186h-3zM742 165h3V178h-3zM750 156h3V213h-3zM757 188h3V226h-3zM769 146h3V233h-3zM780 228h3V234h-3zM783 235h3V265h-3zM787 265h3V306h-3zM791 306h3V327h-3zM795 325h3V327h-3zM806 284h3V299h-3zM813 289h3V311h-3zM817 296h3V298h-3zM825 287h3V300h-3zM839 258h3V273h-3zM843 271h3V288h-3zM847 287h3V292h-3zM854 286h3V298h-3zM862 294h3V312h-3zM869 303h3V306h-3zM873 304h3V308h-3zM877 308h3V326h-3zM881 325h3V369h-3zM896 343h3V350h-3zM899 350h3V374h-3zM914 296h3V312h-3zM918 311h3V336h-3zM929 283h3V305h-3zM937 287h3V290h-3zM952 188h3V191h-3zM959 162h3V182h-3zM963 181h3V194h-3zM970 180h3V191h-3zM974 189h3V192h-3zM981 189h3V222h-3zM985 222h3V234h-3zM1000 212h3V224h-3zM1004 222h3V230h-3zM1015 215h3V219h-3zM1019 219h3V234h-3zM1034 221h3V228h-3zM1037 227h3V231h-3zM1041 230h3V233h-3z" fill="#f23645" shape-rendering="crispEdges"/>
<polyline points="0.8,624.2 4.5,622.1 8.5,620 11.5,618.8 15.5,619.4 19.5,621.5 23.5,625.2 26.5,629.2 30.5,633.5 34.5,638.5 38.5,641.3 41.5,647.2 45.5,646 49.5,646.3 52.5,648.5 56.5,654.4 60.5,657.7 64.5,660.4 67.5,660.3 71.5,658.6 75.5,656.6 79.5,653.8 82.5,650.7 86.5,647.6 90.5,646 94.5,642 97.5,644.6 101.5,646.2 105.5,645.6 109.5,643.4 112.5,641.2 116.5,639.1 120.5,636 123.5,634.2 127.5,632 131.5,629.7 135.5,627.9 138.5,624.5 142.5,622.9 146.5,621.8 150.5,620.4 153.5,619.5 157.5,620.8 161.5,621.7 165.5,621.3 168.5,619.2 172.5,618.9 176.5,617.3 179.5,618.9 183.5,621.4 187.5,622.5 191.5,624.4 194.5,625.3 198.5,624.7 202.5,626.1 206.5,625.2 209.5,623.2 213.5,622.1 217.5,620.5 221.5,621 224.5,622.9 228.5,624.5 232.5,621.7 235.5,617.2 239.5,614 243.5,610.8 247.5,607.7 250.5,604.9 254.5,602.9 258.5,601.8 262.5,602.9 265.5,604.5 269.5,609.7 273.5,614.1 277.5,618.5 280.5,621.5 284.5,625.3 288.5,630.5 291.5,634.9 295.5,640.1 299.5,646.3 303.5,651.9 306.5,658 310.5,665.2 314.5,667.5 318.5,669.9 321.5,670 325.5,669.7 329.5,669.7 333.5,671.5 336.5,672.2 340.5,673.4 344.5,674.5 348.5,675 351.5,677.6 355.5,682.1 359.5,686.3 362.5,687.9 366.5,690.7 370.5,694.4 374.5,698.5 377.5,703.4 381.5,707.4 385.5,710 389.5,713.8 392.5,715 396.5,718 400.5,720 404.5,716.7 407.5,709.7 411.5,699.3 415.5,690.9 418.5,684.5 422.5,676.8 426.5,668.6 430.5,661.1 433.5,654 437.5,648.8 441.5,644.2 445.5,640.7 448.5,637.8 452.5,635.2 456.5,634.3 460.5,637.1 463.5,640 467.5,644.5 471.5,647.8 474.5,652.9 478.5,657.9 482.5,661.7 486.5,663.7 489.5,664.8 493.5,664.8 497.5,666.5 501.5,667.7 504.5,669.1 508.5,672.6 512.5,674.4 516.5,677.5 519.5,678.6 523.5,679.5 527.5,679.8 531.5,681.9 534.5,682.3 538.5,684.7 542.5,684.5 545.5,682.7 549.5,678.7 553.5,673.7 557.5,669 560.5,664.1 564.5,658.4 568.5,656.7 572.5,653.5 575.5,650.1 579.5,644.8 583.5,637.5 587.5,631.6 590.5,625 594.5,621.4 598.5,621.3 601.5,623.3 605.5,625.5 609.5,627.5 613.5,628.3 616.5,632.1 620.5,630.8 624.5,631.2 628.5,631.7 631.5,634.1 635.5,636 639.5,637.8 643.5,640.2 646.5,642.5 650.5,643 654.5,641.7 657.5,641.8 661.5,643.1 665.5,642.3 669.5,640.6 672.5,639.9 676.5,640.7 680.5,642.3 684.5,643 687.5,645.4 691.5,647.7 695.5,649.4 699.5,652.3 702.5,655.2 706.5,658.5 710.5,659.1 714.5,657 717.5,657.3 721.5,657.6 725.5,656.4 728.5,653.3 732.5,649.2 736.5,645.5 740.5,639.8 743.5,636.4 747.5,631.5 751.5,630.7 755.5,628.5 758.5,629.3 762.5,627.5 766.5,627.8 770.5,631.8 773.5,634.6 777.5,639 781.5,644.3 784.5,650.9 788.5,658.2 792.5,667.6 796.5,675.3 799.5,682.5 803.5,684.3 807.5,688.2 811.5,689.2 814.5,694.8 818.5,699.7 822.5,700.4 826.5,701.6 829.5,702.3 833.5,702.3 837.5,699.4 840.5,695.9 844.5,692.6 848.5,689.6 852.5,688 855.5,687.6 859.5,686.5 863.5,686.9 867.5,685.7 870.5,685.5 874.5,685.6 878.5,686.6 882.5,690.2 885.5,693.5 889.5,697.9 893.5,700.4 897.5,702.5 900.5,705.5 904.5,707.3 908.5,708.1 911.5,705.4 915.5,702.6 919.5,701.9 923.5,700.3 926.5,696.3 930.5,692.6 934.5,685.9 938.5,680 941.5,673.7 945.5,668 949.5,659.4 953.5,649.8 956.5,641.1 960.5,634 964.5,631.4 967.5,627.4 971.5,622.7 975.5,618.9 979.5,617.1 982.5,616.3 986.5,617.1 990.5,617.7 994.5,618.5 997.5,619.5 1001.5,623.7 1005.5,628.2 1009.5,633.3 1012.5,636.3 1016.5,638.9 1020.5,643.1 1023.5,646.5 1027.5,649.6 1031.5,652.2 1035.5,653.2 1038.5,653.5 1042.5,654.2" fill="none" stroke="#e4f534" stroke-width="1.25" stroke-linejoin="round"/>
<polyline points="0.8,566.9 4.5,573.9 8.5,616.7 11.5,627.4 15.5,647.7 19.5,664.4 23.5,681.9 26.5,683.6 30.5,684.4 34.5,691.5 38.5,654.8 41.5,695.8 45.5,596.3 49.5,616.7 52.5,643.6 56.5,656.5 60.5,663.1 64.5,665.8 67.5,646.2 71.5,640.2 75.5,653.3 79.5,645.4 82.5,640.4 86.5,648.7 90.5,631.5 94.5,640.1 97.5,632.3 101.5,638.9 105.5,636 109.5,626.2 112.5,631.1 116.5,636.7 120.5,602.6 123.5,615.1 127.5,622.7 131.5,613 135.5,616 138.5,601.4 142.5,608.8 146.5,625.1 150.5,612.6 153.5,625.1 157.5,654.5 161.5,639.2 165.5,625.5 168.5,607 172.5,598 176.5,593.4 179.5,644.3 183.5,649.2 187.5,630.1 191.5,628.1 194.5,621.5 198.5,617.2 202.5,632.3 206.5,612.8 209.5,625.7 213.5,623.8 217.5,604.1 221.5,614 224.5,624.3 228.5,615.1 232.5,605.3 235.5,585.8 239.5,585.6 243.5,583 247.5,578.4 250.5,578.4 254.5,604.2 258.5,597.2 262.5,641.2 265.5,646 269.5,676.8 273.5,676.8 277.5,685.2 280.5,657.8 284.5,657.3 288.5,659.8 291.5,646.7 295.5,655.1 299.5,665.3 303.5,657.8 306.5,689.8 310.5,697.8 314.5,673.3 318.5,679.4 321.5,678.3 325.5,671.7 329.5,685.9 333.5,682.8 336.5,667.1 340.5,676.1 344.5,662.9 348.5,662.4 351.5,701.3 355.5,720.1 359.5,748.8 362.5,720.2 366.5,713.2 370.5,731 374.5,735.9 377.5,739.1 381.5,742.4 385.5,719.1 389.5,720.6 392.5,693.4 396.5,705 400.5,690.2 404.5,654.5 407.5,622.6 411.5,603.4 415.5,601.5 418.5,623.7 422.5,623.7 426.5,620.8 430.5,634.5 433.5,642.3 437.5,646.4 441.5,657.1 445.5,644.2 448.5,664.8 452.5,652.9 456.5,641.7 460.5,662.2 463.5,644 467.5,664.9 471.5,670.2 474.5,694.5 478.5,691.5 482.5,687 486.5,670.8 489.5,661.2 493.5,657.8 497.5,667.7 501.5,681.3 504.5,672.2 508.5,691.3 512.5,687.2 516.5,687.2 519.5,681 523.5,683 527.5,698.5 531.5,720.4 534.5,693.4 538.5,703.9 542.5,658.1 545.5,632.3 549.5,612 553.5,612 557.5,606.6 560.5,622.1 564.5,607.6 568.5,662.8 572.5,636.1 575.5,635.4 579.5,625.1 583.5,618 587.5,610.1 590.5,611.9 594.5,607.8 598.5,631.2 601.5,640.1 605.5,642.6 609.5,634.2 613.5,633.4 616.5,661.1 620.5,644 624.5,641.5 628.5,643 631.5,658.6 635.5,643.9 639.5,635.3 643.5,646 646.5,639.5 650.5,638.2 654.5,622.8 657.5,643.2 661.5,652.3 665.5,623.2 669.5,636.9 672.5,633.8 676.5,653 680.5,665.6 684.5,668.8 687.5,677.3 691.5,667.1 695.5,669.2 699.5,681.2 702.5,678.3 706.5,668.3 710.5,652.5 714.5,623.1 717.5,626.5 721.5,641.4 725.5,617.9 728.5,608.6 732.5,608.6 736.5,617.3 740.5,597 743.5,619.8 747.5,600.1 751.5,670 755.5,647.8 758.5,680.1 762.5,627.4 766.5,627.4 770.5,682.5 773.5,679.8 777.5,679.8 781.5,682.9 784.5,700.4 788.5,719.8 792.5,728.3 796.5,728.3 799.5,700.8 803.5,694.8 807.5,702.3 811.5,694.2 814.5,706.5 818.5,695.7 822.5,692.4 826.5,696 829.5,689.3 833.5,684 837.5,658.7 840.5,670.7 844.5,682.4 848.5,686.1 852.5,679.3 855.5,689.5 859.5,686.1 863.5,700.2 867.5,690 870.5,692.5 874.5,694.3 878.5,710 882.5,738.6 885.5,730 889.5,721 893.5,705.5 897.5,711.3 900.5,727.9 904.5,704.7 908.5,700.9 911.5,647.9 915.5,661.3 919.5,680.3 923.5,669.8 926.5,639.5 930.5,657.4 934.5,645.5 938.5,647.5 941.5,631.9 945.5,625.6 949.5,591.4 953.5,594 956.5,582.4 960.5,601.1 964.5,611.8 967.5,605.2 971.5,615.2 975.5,616.1 979.5,614.2 982.5,646.1 986.5,656.4 990.5,656.1 994.5,643.6 997.5,639.1 1001.5,651 1005.5,656.4 1009.5,654.2 1012.5,643.1 1016.5,648.1 1020.5,663.7 1023.5,662.9 1027.5,660.1 1031.5,650.5 1035.5,658.9 1038.5,661.9 1042.5,664.8" fill="none" stroke="#9a57d0" stroke-width="1.2" stroke-linejoin="round"/></svg>
<div id="ov" style="position:absolute;left:0;top:0;width:1359px;height:879px;will-change:transform">
<div class="bl"></div><div class="br"></div>
<div class="hsep" style="top:526px;background:#ecedf0"></div>
<div class="hsep" style="top:833px"></div>
<div class="hsep" style="top:878px;background:#f1f1f3"></div>

<!-- header: symbol icons -->
<svg class="abs" style="left:10px;top:4px" width="30" height="28" viewBox="0 0 30 28">
  <defs><clipPath id="cf"><circle cx="18.600" cy="9.600" r="7.400"/></clipPath></defs>
  <g clip-path="url(#cf)"><rect x="10" y="1" width="18" height="18" fill="#f5f6fa"/><rect x="10" y="1" width="4.100" height="18" fill="#ea3a3f"/><rect x="22.850" y="1" width="5" height="18" fill="#ea3a3f"/>
  <path d="M18.850 5.900l.9 1.800 1.600-.500-.600 1.800 1.200 1-2.100.700.200 1.500h-2.400l.2-1.500-2.100-.700 1.200-1-.600-1.800 1.600.500z" fill="#ea3a3f"/></g>
  <circle cx="11.100" cy="17.100" r="8.500" fill="#fff"/>
  <circle cx="11.100" cy="17.100" r="7.200" fill="#1a63c6"/>
  <g fill="#e9c94a">
    <circle cx="11.100" cy="12.700" r=".850"/><circle cx="11.100" cy="21.500" r=".850"/>
    <circle cx="6.700" cy="17.100" r=".850"/><circle cx="15.500" cy="17.100" r=".850"/>
    <circle cx="8" cy="14" r=".850"/><circle cx="14.200" cy="14" r=".850"/>
    <circle cx="8" cy="20.200" r=".850"/><circle cx="14.200" cy="20.200" r=".850"/>
  </g>
</svg>
<div class="abs title" style="left:40.5px">Euro /Đô la Canada</div><div class="abs title" style="left:221.500px">·</div><div class="abs title" style="left:231px;letter-spacing:-0.3px">30</div><div class="abs title" style="left:258px">·</div><div class="abs title" style="left:268.500px;letter-spacing:-0.050px">OANDA</div>

<!-- status pill -->
<div class="abs" style="left:350px;top:6px;width:50px;height:22px;border-radius:11px;background:#dbf1ed;overflow:hidden">
  <div style="position:absolute;left:25px;top:0;width:25px;height:22px;background:#f1a5c1"></div>
  <div style="position:absolute;left:8px;top:6px;width:10px;height:10px;border-radius:5px;background:#089981"></div>
  <div style="position:absolute;left:30px;top:-0.100px;font-size:21px;line-height:22px;font-weight:normal;color:#e3225f;-webkit-text-stroke:0.300px #e3225f;transform:scaleY(1.120)">≈</div>
</div>

<div class="abs ohlc" style="left:409.700px"><b>O</b><i style="margin-left:1.500px">1.61814</i></div>
<div class="abs ohlc" style="left:489px"><b>H</b><i style="margin-left:1.500px">1.61820</i></div>
<div class="abs ohlc" style="left:568.500px"><b>L</b><i style="margin-left:1.500px">1.61808</i></div>
<div class="abs ohlc" style="left:645.500px"><b>C</b><i style="margin-left:2px">1.61808</i></div>
<div class="abs ohlc" style="left:724.500px"><i>−0.00008</i><i style="margin-left:6px">(−0.00%)</i></div>

<!-- sell / buy -->
<div class="btn" style="left:12px;border-color:#f23645;color:#f23645"><div class="p">1.6179<sup>2</sup></div><div class="t">BÁN</div></div>
<div class="abs" style="left:106px;top:50.500px;font-size:12px;line-height:16px;color:#131722">3.1</div>
<div class="btn" style="left:133px;border-color:#2962ff;color:#2962ff"><div class="p">1.6182<sup>3</sup></div><div class="t">MUA</div></div>

<!-- legends -->
<div class="abs lg" style="top:89px">EMA 20/50/100/200</div>
<div class="abs lg" style="left:165.5px;top:89px;color:#ff0000">1.61821</div>
<div class="abs lg" style="left:231.5px;top:89px;color:#ff8000">1.61770</div>
<div class="abs lg" style="left:297.5px;top:89px;color:#00ffff">1.61736</div>
<div class="abs lg" style="left:363.5px;top:89px;color:#0000ff">1.61693</div>

<div class="abs lg" style="top:119px">Khối lượng · Ticks</div>
<div class="abs lg" style="left:154.500px;top:119px;color:#f23645">37</div>

<div class="abs lg dim" style="top:149px">BB</div><div class="abs lg dim" style="top:149px;left:38.300px">20</div><div class="abs lg dim" style="top:149px;left:61.300px">SMA</div><div class="abs lg dim" style="top:149px;left:101.300px">close</div><div class="abs lg dim" style="top:149px;left:144.500px">2</div>
<svg class="abs" style="left:163.200px;top:149.200px" width="26" height="20" viewBox="0 0 26 20" fill="none" stroke="#131722" stroke-width="1.500" stroke-linecap="round">
  <path d="M3.250 10C6 5.300 9.500 2.750 13 2.750S20 5.300 22.750 10C20 14.700 16.500 17.250 13 17.250S6 14.700 3.250 10z"/>
  <circle cx="13" cy="10" r="3.300"/>
  <path d="M5.300 17.700L20.800 2.200" stroke="#fff" stroke-width="4.600" stroke-linecap="butt"/>
  <path d="M6.100 16.900L20 3"/>
</svg>

<div class="abs lg dim" style="top:179px">Volume Profile / Fixed Range</div><div class="abs lg dim" style="top:179px;left:228px">120</div><div class="abs lg dim" style="top:179px;left:259px">20</div><div class="abs lg dim" style="top:179px;left:283.500px">70</div><div class="abs lg dim" style="top:179px;left:305px">2</div>
<svg class="abs" style="left:324.200px;top:179px" width="26" height="20" viewBox="0 0 26 20" fill="none" stroke="#131722" stroke-width="1.500" stroke-linecap="round">
  <path d="M3.250 10C6 5.300 9.500 2.750 13 2.750S20 5.300 22.750 10C20 14.700 16.500 17.250 13 17.250S6 14.700 3.250 10z"/>
  <circle cx="13" cy="10" r="3.300"/>
  <path d="M5.300 17.700L20.800 2.200" stroke="#fff" stroke-width="4.600" stroke-linecap="butt"/>
  <path d="M6.100 16.900L20 3"/>
</svg>

<!-- collapse button -->
<div class="abs" style="left:12px;top:208px;width:34px;height:24px;border:1px solid #d9dade;border-radius:4.500px;background:rgba(255,255,255,0.88)"></div>
<svg class="abs" style="left:12px;top:208px" width="36" height="26" viewBox="0 0 36 26" fill="none" stroke="#131722" stroke-width="1.6"><path d="M12.500 15.500l5-5 5 5"/></svg>

<!-- RSI legend -->
<div class="abs lg" style="top:537.4px"><span style="color:#131722">RSI</span> <span style="color:#6a6d78">14 close</span></div>
<div class="abs lg" style="left:114.500px;top:537.4px;color:#9c59c9">49.99</div>
<div class="abs lg" style="left:163px;top:537.4px;color:#e1f43a">52.91</div>

<!-- price axis -->
<div class="ax" style="top:43px">1.62400</div>
<div class="ax" style="top:104px">1.62200</div>
<div class="ax" style="top:166px">1.62000</div>
<div class="ax" style="top:350px">1.61400</div>
<div class="ax" style="top:412px">1.61200</div>
<div class="ax" style="top:473px">1.61000</div>
<div class="ax" style="top:547px">80.00</div>
<div class="ax" style="top:620px">60.00</div>
<div class="ax" style="top:694px">40.00</div>
<div class="ax" style="top:767px">20.00</div>

<div class="tag" style="top:201px;height:21px;background:#ff0000">1.61821</div>
<div class="tag" style="top:222px;height:39px;background:#f23645;line-height:21px">1.61808<div style="position:absolute;left:10.300px;top:18px;color:#fbd0d4;-webkit-text-stroke:0">29:33</div></div>
<div class="tag" style="top:261px;height:21px;background:#ff8000">1.61770</div>
<div class="tag" style="top:282px;height:21px;background:#00ffff;color:#131722;-webkit-text-stroke:0">1.61736</div>
<div class="tag" style="top:303px;height:21px;background:#0000ff">1.61693</div>
<div class="tag" style="top:505.400px;height:20.600px;width:32px;background:#ef5350;line-height:21px;padding-left:10.300px">37</div>
<div class="tag" style="top:633px;height:21px;width:53px;background:#e1ff2f;color:#131722;line-height:22px;padding-left:11.300px;-webkit-text-stroke:0">52.91</div>
<div class="tag" style="top:655px;height:21px;width:53px;background:#9c59c9;line-height:22px;padding-left:11.300px">49.99</div>

<!-- time axis -->
<div class="tl" style="left:64px">11</div>
<div class="tl" style="left:243px">12</div>
<div class="tl" style="left:422px">13</div>
<div class="tl" style="left:601px">16</div>
<div class="tl" style="left:781px">17</div>
<div class="tl" style="left:960px">18</div>
<div class="tl" style="left:1139px">19</div>
<svg class="abs" style="left:1307px;top:804px" width="24" height="24" viewBox="0 0 24 24" fill="none" stroke="#131722" stroke-width="1.300"><path d="M8.100 4.900h8.400l4.500 7.100-4.500 7.100H8.100L4 12z"/><circle cx="12.400" cy="12" r="2.650"/></svg>

<!-- TradingView logo -->
<svg class="abs" style="left:12px;top:756px" width="210" height="36" viewBox="0 0 210 36">
  <g fill="#fff" stroke="#fff" stroke-width="5" stroke-linejoin="round">
    <path d="M5.100 6.150h14.700v18.250h-7.700V12.800H5.100z"/><circle cx="26.300" cy="9.300" r="3.500"/><path d="M32.400 6.150h9.750l-7.250 18.250H26.300z"/>
    <text x="50.700" y="24.400" font-family="Liberation Sans, sans-serif" font-weight="bold" font-size="26.500" textLength="151.500" lengthAdjust="spacingAndGlyphs">TradingView</text>
  </g>
  <g fill="#131722">
    <path d="M5.100 6.150h14.700v18.250h-7.700V12.800H5.100z"/><circle cx="26.300" cy="9.300" r="3.500"/><path d="M32.400 6.150h9.750l-7.250 18.250H26.300z"/>
    <text x="50.700" y="24.400" font-family="Liberation Sans, sans-serif" font-weight="bold" font-size="26.500" textLength="151.500" lengthAdjust="spacingAndGlyphs">TradingView</text>
  </g>
</svg>

<!-- bottom toolbar -->
<div class="tb" style="left:20.500px">1Ngày</div>
<div class="tb" style="left:85.500px">5Ngày</div>
<div class="tb" style="left:151.500px">1Tháng</div>
<div class="tb" style="left:225px">3Tháng</div>
<div class="tb" style="left:299px">6 tháng</div>
<div class="tb" style="left:373px">YTD</div>
<div class="tb" style="left:423px">1Năm</div>
<div class="tb" style="left:484px">5Năm</div>
<div class="tb" style="left:547px">Tất cả</div>
<div class="abs" style="left:607.200px;top:844px;width:1.600px;height:28px;background:#e6e7ea"></div>
<svg class="abs" style="left:622px;top:842px" width="30" height="30" viewBox="0 0 30 30" fill="none" stroke="#131722" stroke-width="1.600"><path d="M11 3.200v4.400M19.800 3.200v4.400M5 13.500V8.300a2.500 2.500 0 0 1 2.500-2.500h15.700a2.500 2.500 0 0 1 2.500 2.500v14.100a2.500 2.500 0 0 1-2.500 2.500H15.500M5 10.900h20.700M3.100 21.100h9.600M8.300 16.600l4.400 4.500-4.400 4.500"/></svg>
<div class="tb" style="right:14px;font-size:17.100px;top:849.300px;letter-spacing:0">11:00:28 UTC+7</div>
</div>
</body>
</html>
